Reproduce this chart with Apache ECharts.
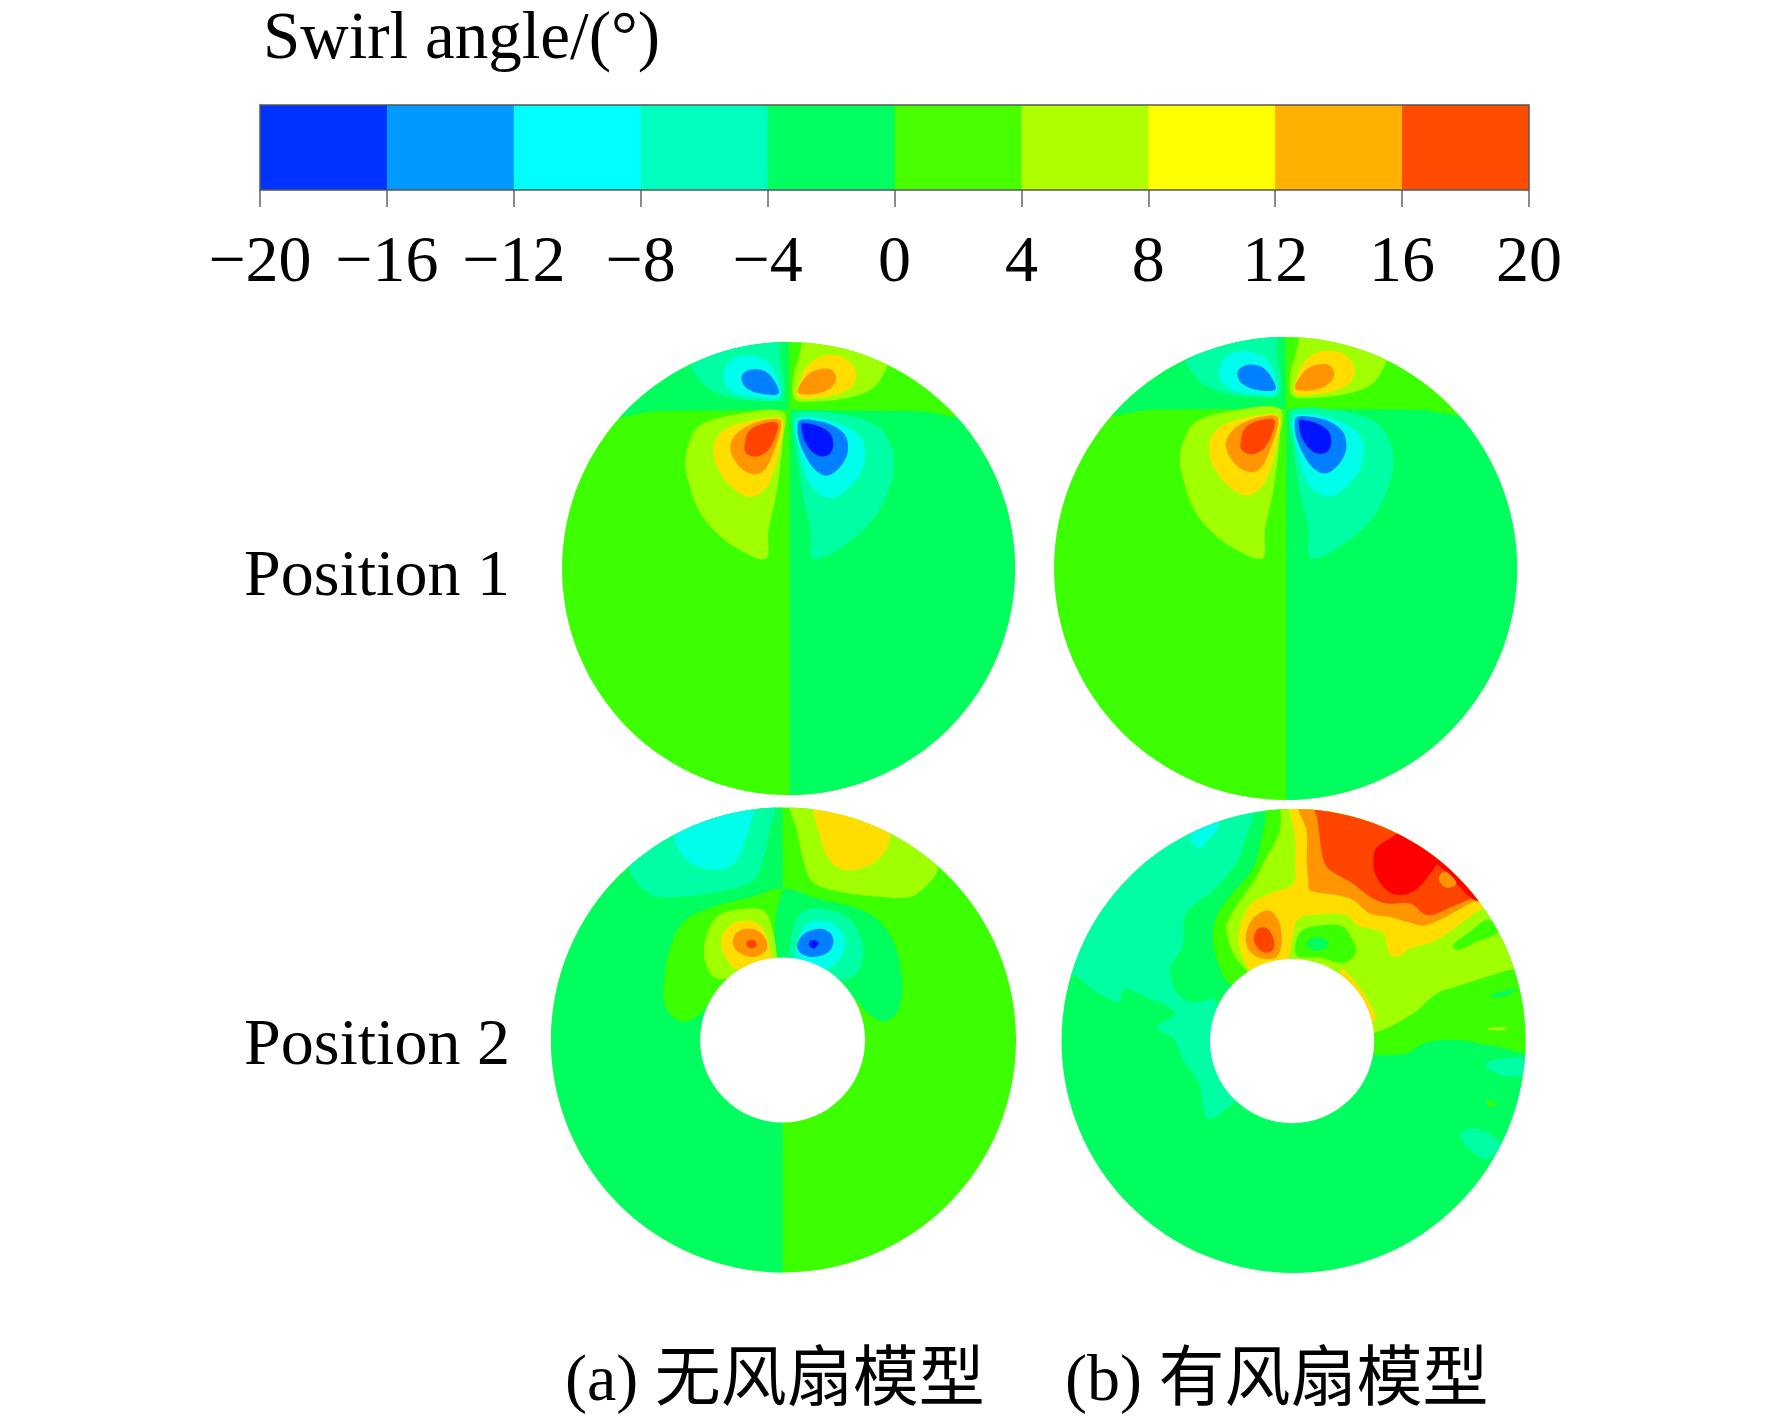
<!DOCTYPE html>
<html><head><meta charset="utf-8">
<style>html,body{margin:0;padding:0;background:#fff}#c{width:1772px;height:1419px}</style>
<script src="https://cdn.jsdelivr.net/npm/echarts@6/dist/echarts.min.js"></script>
</head><body><div id="c"></div>
<script>
// ---- text and scale ----
const legendTitle = 'Swirl angle/(°)';
const rowLabels = ['Position 1', 'Position 2'];
const captions = ['(a) 无风扇模型', '(b) 有风扇模型'];
const tickValues = [-20,-16,-12,-8,-4,0,4,8,12,16,20];
const tickLabels = ['−20','−16','−12','−8','−4','0','4','8','12','16','20'];
const legendColors = ['#0033ff','#0099ff','#00ffff','#00ffbf','#00ff60','#48ff00','#b0ff00','#ffff00','#ffb000','#ff4c00'];
// contour band (centre value, degrees) -> colour seen on the sections
const bandValues = [-18,-14,-10,-6,-2,2,6,10,14,18,22];
const bandColors = ['#0014ff','#0080ff','#00ffea','#00ffa5','#00ff5e','#3cff00','#a0ff00','#ffdd00','#ff9500','#ff4400','#ff0000'];

// ---- contour fields: [band value, [[x,y]...]], x and y in percent of the section radius ----
const pos1FanOffFields = [
 [2, [[-120,-120],[120,-120],[120,120],[-120,120]]],
 [-2,[[0.5,-120],[120,-120],[120,60],[74.3,66.6],[59.6,69.4],[2.2,70.1],[0.5,70.1]]],
 [-2,[[-120,60],[-74.3,66.6],[-61,69.4],[-2.2,70.1],[0.2,70.1],[0.2,120],[-120,120]]]
];
const pos1FanOnFields = [
 [2, [[-120,-120],[120,-120],[120,120],[-120,120]]],
 [-2,[[0.4,-120],[120,-120],[120,60],[74.5,66],[60,68.6],[2.2,69],[0.4,69]]],
 [-2,[[-120,60],[-74.5,66],[-60,68.6],[-2.2,69],[0,69],[0,120],[-120,120]]]
];
const pos1Contours = [
 [-6,[[-42.6,91.9],[-39.7,83.8],[-33.1,78.2],[-22.8,75],[-9.6,74],[-2.9,75],[-2.2,83.1],[-3.7,91.9],[-5.1,102.2],[-24.3,102.2]]],
 [-10,[[-28.7,86],[-27.2,80.1],[-21.3,76.5],[-12.5,75.3],[-4.4,75],[-3.7,79.4],[-5.9,86.8],[-9.6,91.6],[-18.4,94.1],[-25.7,91.6]]],
 [-14,[[-20.7,83.2],[-18.5,79.6],[-11.9,77.1],[-4.4,77.3],[-6,82.5],[-10,86.9],[-15.5,88.1],[-20,86.2]]],
 [6,[[43.4,91.9],[41.2,84.6],[36,78.7],[25.7,75.3],[12.5,73.8],[2.9,74.6],[1.9,83.1],[4.4,92.6],[8.1,102.2],[27.2,102.2]]],
 [10,[[29.9,86],[27.9,80.1],[21.3,76.8],[11,75.1],[4,75.7],[5.1,83.1],[8.4,89.7],[14.7,93.7],[22.8,93.7],[27.9,90.4]]],
 [14,[[4.3,77.6],[6.5,83.2],[11,87.2],[18.3,88.1],[21,84.7],[19.5,80.6],[13.2,77.3]]],
 [6,[[-45.6,46.3],[-44.1,38.2],[-39.7,25.7],[-31.6,15.4],[-21.3,8.1],[-9.9,4.4],[-8.8,16.9],[-5.1,34.6],[-2.5,56.6],[-2.5,69.1],[-22.8,68.1],[-39,63.2],[-44.1,55.1]]],
 [10,[[-33.1,52.9],[-31.2,44.1],[-24.3,35.3],[-16.9,31.6],[-11,34.3],[-6.9,41.9],[-3.4,55.1],[-2.9,65.7],[-11,66.2],[-24.3,63.2],[-30.9,58.8]]],
 [14,[[-25.7,54.4],[-24.5,49],[-20,43.5],[-15,41.6],[-11,43],[-8,48],[-5,56],[-3.4,62],[-3.6,65.5],[-9,65.8],[-17,63.5],[-23,59.5]]],
 [18,[[-19.2,51.6],[-15.5,49.4],[-10.4,50.9],[-6.7,56],[-4.9,64.1],[-11.9,63.8],[-17.7,60.4],[-19.2,55.3]]],
 [-6,[[46.6,46.3],[44.9,36.8],[38.2,22.8],[25.7,11],[11,4.4],[9.9,16.9],[6.6,31.6],[2.9,56.6],[2.9,68.4],[22.8,68.1],[39,63.2],[44.9,55.1]]],
 [-10,[[33.8,52.9],[32.4,43.4],[25.7,34.9],[19.1,31.2],[11.8,34.3],[7.4,41.9],[4,55.1],[3.4,65.7],[12.5,66.6],[24.3,63.2],[31.6,58.4]]],
 [-14,[[3.9,63],[4.8,56],[9,47],[13,42.5],[17,41],[21,43],[25,48],[26.3,53],[24.9,59],[19,63.5],[11,65.5],[5,65.5]]],
 [-18,[[5.8,64.1],[7.3,56],[12.4,50.1],[17.6,50.1],[19.8,54.5],[18.3,59.7],[13.2,62.9],[8,64.1]]]
];
const pos2FanOffFields = [
 [2, [[-120,-120],[120,-120],[120,120],[-120,120]]],
 [-2,[[-120,-120],[-0.4,-120],[-0.4,120],[-120,120]]]
];
const pos2FanOffContours = [
 [2,[[-0.5,63.8],[-14.6,61.3],[-31.9,56.7],[-43.3,50.5],[-49.1,38.3],[-51.5,24],[-50.5,13.9],[-44,7.9],[-36.2,11],[-26.1,22.5],[-0.5,31.1]]],
 [-2,[[-0.5,63.8],[14.1,61],[32.7,56.2],[42.8,49.5],[48.8,38.3],[51.1,22.5],[49.2,12.5],[43.5,7.9],[37,11],[25.5,22.5],[-0.5,31.1]]],
 [6,[[-34,41.2],[-33.3,32.6],[-29.3,26.8],[-20.4,26.8],[-3.2,31.1],[-2.9,36.2],[-5.3,49.8],[-8.9,55.8],[-18.9,56.2],[-29,52.7]]],
 [10,[[-26.8,41.9],[-24.7,35.4],[-19.7,30.4],[-6,30.4],[-6.7,42.6],[-11,50.1],[-18.9,51.2],[-24.7,47.6]]],
 [14,[[-21.8,41.9],[-19.7,38],[-13.2,35.7],[-7.7,38.3],[-7.2,42.6],[-11,46.9],[-16.1,47.9],[-20.4,45.9]]],
 [18,[[-16.1,41.2],[-13.9,39.3],[-11.5,40.5],[-12.5,42.9],[-14.9,42.9]]],
 [-6,[[34.1,41.2],[33.4,32.6],[29.1,26.8],[19.8,26.8],[2.6,31.1],[2.3,36.2],[4.7,49.8],[9,55.8],[18.4,56.2],[28.4,51.9]]],
 [-10,[[26.5,41.9],[24.1,34.7],[16.9,29.7],[6.2,29.7],[6.2,42.6],[10.5,50.1],[18.4,51.2],[24.1,47.6]]],
 [-14,[[21.5,41.9],[19.1,37.6],[12.6,35.7],[7.6,37.2],[5.9,40.9],[9,45.8],[15.5,47.9],[20.2,45.9]]],
 [-18,[[10.9,40.7],[12.9,39.3],[15.2,41.5],[13.8,42.9],[11.6,42.6]]],
 [-6,[[-66.3,75.6],[-63.1,67.7],[-55.5,62],[-43.3,61.7],[-26.1,64.1],[-13.2,68.4],[-8.9,77],[-6,90],[-4.6,102.9],[-57.7,102.9]]],
 [-10,[[-46.9,88.5],[-44,79.9],[-37.6,74.9],[-26.8,73.2],[-20.4,77],[-16.1,87.1],[-12.5,98.6],[-11.8,102.9],[-43.3,102.9]]],
 [6,[[66.4,74.9],[62.8,67.7],[55,61.7],[42.8,61.5],[24.1,63.8],[12.6,68],[8.6,77],[6.2,88.5],[4,102.9],[57.1,102.9]]],
 [10,[[45.9,87.8],[42.8,79.9],[35.6,74.5],[25.5,73.2],[19.1,78.5],[15.5,88.5],[12.9,97.8],[11.9,102.9],[45.6,102.9]]]
];
const pos2FanOnFields = [
 [-2,[[-120,-120],[120,-120],[120,120],[-120,120]]]
];
const pos2FanOnContours = [
 [-6,[[-104.2,28.2],[-94.1,28.2],[-86.9,22.5],[-75.4,16.7],[-73.2,22.2],[-63.1,18.9],[-50.9,12],[-58.8,5.9],[-51.6,0.9],[-47.3,-8.5],[-40.8,-17.9],[-37.2,-33.3],[-27.8,-28.4],[-23.5,-22.9],[-32.1,0.1],[-33.6,17.4],[-43.7,16.7],[-50.9,21.8],[-53,31.8],[-48,40.5],[-46.5,54.9],[-36.1,63.6],[-30.3,69.4],[-23.9,78],[-21,86],[-17,98.1],[-17,105.3],[-104.2,105.3]]],
 [-10,[[-44.4,87.3],[-40.8,83],[-37.2,85.9],[-32.1,93.8],[-39.3,95.2]]],
 [2,[[-12,105.3],[-12,96.7],[-13.4,89.5],[-16,78],[-18.8,72.2],[-27.5,62.2],[-33.2,53.5],[-34.7,43.4],[-31.8,31.9],[-27.5,24.7],[-12,17.4],[14,-5.6],[35.6,-5.9],[48.6,-5.3],[57.2,-0.6],[71.6,0.4],[86,-2],[103.3,-3],[103.3,105.3]]],
 [6,[[-5.5,105.3],[-5.5,96.7],[-6.2,89.5],[-12.3,78],[-15.9,70.8],[-27.5,53.5],[-28.9,47.8],[-26,37.7],[-21.7,31.9],[-7.6,17.4],[14,0.1],[35.6,3.7],[51.4,11.7],[61.5,20.3],[71.6,23.9],[91.8,30.4],[103.3,34.7],[103.3,105.3]]],
 [2,[[68.7,41.2],[70.9,39.3],[78.8,42.7],[88.2,47],[83.9,52.3],[75.9,47]]],
 [2,[[0.6,39.1],[2,45.6],[6.4,48.9],[20.8,49.5],[25.1,44.2],[26.8,37.7],[21.5,33.7],[11.4,36],[2,36.2]]],
 [-2,[[5.7,41.3],[10.3,38.8],[15.4,42],[11.4,44.6],[7.1,43.7]]],
 [-2,[[84.9,18.9],[90.3,19.2],[96.4,22],[90.3,21.5]]],
 [6,[[83.9,5.6],[91.8,5.9],[91.8,4.8],[83.9,4.8]]],
 [-6,[[82.9,-10.7],[86.7,-13.5],[93.2,-15.4],[103.3,-13.5],[103.3,-7.8],[86,-8.2]]],
 [2,[[83,-26.5],[85.4,-25.8],[87.5,-27.5],[84.7,-28]]],
 [-6,[[72.3,-39.5],[75.2,-46],[83.9,-51],[88.9,-43.8],[79.6,-38]]],
 [10,[[-3.3,105.3],[-1.9,99.6],[0.7,88],[0.6,78],[-0.1,67.9],[-10.2,63.6],[-18.1,59.3],[-22.4,51.4],[-23.9,43.4],[-21.7,36.2],[-18.1,30.5],[-3.7,33.4],[-0.1,46.3],[1.6,52.1],[7.1,54.2],[22.9,54.2],[27.3,49.9],[38.8,46.3],[40.9,38.4],[44.5,36.2],[50.3,39.8],[61.5,43.4],[78.8,55.6],[86,60.7],[86,105.3]]],
 [10,[[21,31],[27,25],[32.5,17],[35.5,9],[30,10],[20,26]]],
 [14,[[1,105.3],[2.4,98.8],[5.6,90.9],[5.7,78],[6.4,69.4],[7.1,65],[18.6,62.9],[25.8,60.7],[33,55],[41.7,53.5],[50.3,51],[57.2,49.9],[75.9,59.2],[84.6,65],[84.6,105.3]]],
 [18,[[8.9,105.3],[10.4,95.2],[12.9,78],[15.7,73.7],[24.4,68.6],[33,62.2],[40.2,59.3],[50.3,59.3],[57.9,54.2],[68.7,58.1],[78.8,62.8],[84.6,69.3],[84.6,105.3]]],
 [22,[[34.5,78],[35.2,72.2],[40.2,65],[46,62.9],[52.9,65.3],[60.1,73.6],[62.2,75.8],[70.2,67.9],[78.1,60.7],[86,60.7],[86,89.5],[50,92.4],[42.8,88],[35.6,83]]],
 [14,[[62.7,69.3],[65.9,66.1],[70.2,67.9],[65.9,72.9],[63.4,71.9]]],
 [14,[[-20.5,45.6],[-19.1,39.1],[-14.5,35.8],[-7.3,36.2],[-5.1,43.4],[-6.6,52.1],[-10.9,56.4],[-17.4,52.8]]],
 [18,[[-17.1,44.2],[-15.2,39.8],[-11.6,38],[-8.5,39.8],[-8.7,44.2],[-11.3,48.5],[-15.2,48.5]]]
];
// hub in the Position 2 sections: [x, y, radius], percent of the section radius
const pos2FanOffHub = [-0.4, 0, 35.5];
const pos2FanOnHub = [-0.6, 0, 35.4];

// ---- layout ----
const FONT = '"Liberation Serif","Noto Sans CJK SC",serif';
const panels = [
 {cx:788.5, cy:568.5, r:226.5, fields:pos1FanOffFields, contours:pos1Contours, hub:null},
 {cx:1285.5,cy:568.5, r:231.5, fields:pos1FanOnFields,  contours:pos1Contours, hub:null},
 {cx:783.5, cy:1040,  r:232.5, fields:pos2FanOffFields, contours:pos2FanOffContours, hub:pos2FanOffHub},
 {cx:1293.5,cy:1041,  r:232,   fields:pos2FanOnFields,  contours:pos2FanOnContours,  hub:pos2FanOnHub}
];
const colorOf = v => bandColors[bandValues.indexOf(v)];

function regionSeries(i, regions, smooth) {
  return {
    type:'custom', coordinateSystem:'cartesian2d', xAxisIndex:i+1, yAxisIndex:i+1, silent:true, animation:false,
    data: regions.map((r,k)=>[k, r[0]]),
    renderItem:(params, api)=>{
      const reg = regions[api.value(0)];
      const c = api.coord([0,0]);
      return {
        type:'polygon',
        shape:{points:reg[1].map(p=>api.coord(p)), smooth:smooth},
        style:{fill:colorOf(reg[0])},
        clipPath:{type:'circle', shape:{cx:c[0], cy:c[1], r:api.size([100,0])[0]}}
      };
    }
  };
}
function hubSeries(i, hub) {
  return {
    type:'custom', coordinateSystem:'cartesian2d', xAxisIndex:i+1, yAxisIndex:i+1, silent:true, animation:false,
    data:[hub],
    renderItem:(params, api)=>{
      const c = api.coord([api.value(0), api.value(1)]);
      return {type:'circle', shape:{cx:c[0], cy:c[1], r:api.size([api.value(2),0])[0]}, style:{fill:'#ffffff'}};
    }
  };
}

const grids = [{left:260, top:105, width:1269, height:85}];
const xAxes = [{
  gridIndex:0, type:'value', min:-20, max:20, interval:4, position:'bottom',
  axisLine:{show:false}, splitLine:{show:false},
  axisTick:{show:true, length:17, lineStyle:{color:'#8a8a8a', width:2}},
  axisLabel:{show:true, margin:41, color:'#000', fontFamily:FONT, fontSize:66, hideOverlap:false,
    formatter:v=>tickLabels[tickValues.indexOf(v)]}
}];
const yAxes = [{gridIndex:0, type:'value', min:0, max:1, show:false}];
const lastTick = tickValues[tickValues.length-1];
const series = [{
  type:'custom', coordinateSystem:'cartesian2d', xAxisIndex:0, yAxisIndex:0, silent:true, animation:false,
  data: legendColors.map((c,k)=>[tickValues[k], k]),
  renderItem:(params, api)=>{
    // each band runs to the end of the bar and the next one paints over it, so no seam shows
    const a = api.coord([api.value(0),1]), b = api.coord([lastTick,0]);
    return {type:'rect', shape:{x:a[0], y:a[1], width:b[0]-a[0], height:b[1]-a[1]}, style:{fill:legendColors[api.value(1)]}};
  }
},{
  type:'custom', coordinateSystem:'cartesian2d', xAxisIndex:0, yAxisIndex:0, silent:true, animation:false,
  data:[[tickValues[0], lastTick]],
  renderItem:(params, api)=>{
    const a = api.coord([api.value(0),1]), b = api.coord([api.value(1),0]);
    return {type:'rect', shape:{x:a[0], y:a[1], width:b[0]-a[0], height:b[1]-a[1]}, style:{fill:'none', stroke:'#555555', lineWidth:2, opacity:.75}};
  }
}];
panels.forEach((p,i)=>{
  grids.push({left:p.cx-p.r, top:p.cy-p.r, width:2*p.r, height:2*p.r});
  xAxes.push({gridIndex:i+1, type:'value', min:-100, max:100, show:false});
  yAxes.push({gridIndex:i+1, type:'value', min:-100, max:100, show:false});
  series.push(regionSeries(i, p.fields, 0));
  series.push(regionSeries(i, p.contours, 0.35));
  if (p.hub) series.push(hubSeries(i, p.hub));
});

const label = (text,x,y,size)=>({type:'text', x:x, y:y, silent:true,
  style:{text:text, fill:'#000', font:(size||66)+'px '+FONT, textAlign:'left', textVerticalAlign:'middle'}});

echarts.init(document.getElementById('c')).setOption({
  backgroundColor:'#ffffff', animation:false,
  grid:grids, xAxis:xAxes, yAxis:yAxes, series:series,
  graphic:[
    label(legendTitle,263,40,67),
    label(rowLabels[0],244,578),
    label(rowLabels[1],244,1047),
    label(captions[0],565,1383),
    label(captions[1],1065,1383)
  ]
});
</script></body></html>
